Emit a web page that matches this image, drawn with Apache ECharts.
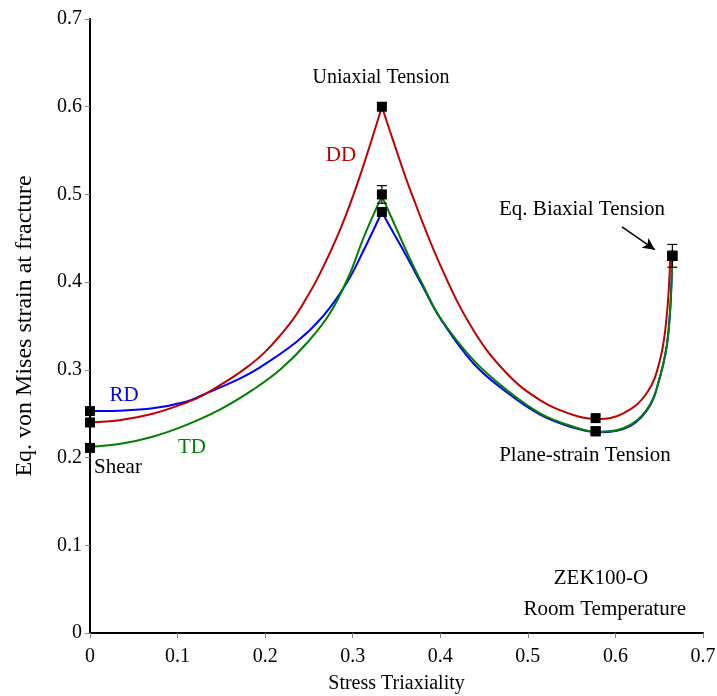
<!DOCTYPE html>
<html>
<head>
<meta charset="utf-8">
<script src="https://cdn.jsdelivr.net/npm/echarts@6/dist/echarts.min.js"></script>
<style>html,body{margin:0;padding:0;background:#fff;}#c{width:717px;height:696px;}</style>
</head>
<body>
<div id="c"></div>
<script>
// Measured points (stress triaxiality, equivalent strain)
const rdPts = [[0, 0.253], [0.3333, 0.480], [0.5774, 0.230], [0.665, 0.430]];
const ddPts = [[0, 0.240], [0.3333, 0.600], [0.5774, 0.245], [0.665, 0.430]];
const tdPts = [[0, 0.211], [0.3333, 0.500], [0.5774, 0.230], [0.665, 0.430]];
// Error bars [x, low, high]
const errBars = [[0.3333, 0.490, 0.510], [0.665, 0.417, 0.443]];

// Fitted curves (left branch up to uniaxial, right branch after)
const ddLeft = [[0,0.240],[0.0335,0.2425],[0.0716,0.250],[0.1096,0.2625],[0.1287,0.271],[0.1517,0.2845],[0.1751,0.300],[0.2,0.3205],[0.2284,0.353],[0.2455,0.379],[0.2627,0.410],[0.2855,0.4595],[0.3064,0.5155],[0.3333,0.600]];
const ddRight = [[0.3333,0.600],[0.348,0.556],[0.365,0.507],[0.3997,0.420],[0.4377,0.3455],[0.4758,0.2961],[0.5139,0.2656],[0.5519,0.2486],[0.5786,0.244],[0.609,0.2505],[0.6357,0.2733],[0.6509,0.3113],[0.6585,0.3607],[0.6625,0.4253]];
const rdLeft = [[0,0.253],[0.0335,0.2535],[0.0716,0.2562],[0.1096,0.2637],[0.1287,0.2714],[0.1667,0.288],[0.1903,0.3005],[0.236,0.332],[0.2664,0.3615],[0.2931,0.399],[0.3121,0.4355],[0.3333,0.480]];
const rdRight = [[0.3333,0.480],[0.345,0.459],[0.3612,0.430],[0.38,0.395],[0.3997,0.359],[0.4377,0.3075],[0.4758,0.2745],[0.5139,0.249],[0.5519,0.234],[0.5786,0.229],[0.609,0.2325],[0.6357,0.2535],[0.6509,0.292],[0.6604,0.3417],[0.665,0.436]];
const tdLeft = [[0,0.2125],[0.0335,0.2155],[0.0716,0.2238],[0.1096,0.237],[0.1477,0.2543],[0.1858,0.2771],[0.217,0.300],[0.2475,0.3303],[0.274,0.3645],[0.2969,0.410],[0.3121,0.450],[0.3333,0.498]];
const tdRight = [[0.3333,0.498],[0.345,0.472],[0.3638,0.430],[0.38,0.397],[0.3997,0.3597],[0.4377,0.3113],[0.4758,0.2771],[0.5139,0.2505],[0.5519,0.2352],[0.5786,0.2295],[0.609,0.2334],[0.6357,0.2543],[0.6509,0.2922],[0.6604,0.3417],[0.665,0.4367]];

const arrowLine = [[0.6075, 0.463], [0.645, 0.437]];

const xTicks = { min: 0, max: 0.7, interval: 0.1 };
const yTicks = { min: 0, max: 0.7, interval: 0.1 };

const RED = '#C00000', BLUE = '#0000FF', GREEN = '#008000';
const FONT = '"Liberation Serif", "DejaVu Serif", serif';
const AX = '#868686';

const chart = echarts.init(document.getElementById('c'), null, { renderer: 'canvas' });

function curve(data, color, z) {
  return { type: 'line', data: data, smooth: 0.4, showSymbol: false, symbol: 'none',
    lineStyle: { color: color, width: 2 }, z: z, silent: true, animation: false };
}
function pts(data) {
  return { type: 'scatter', data: data, symbol: 'rect', symbolSize: 10, itemStyle: { color: '#000', opacity: 1 }, z: 10, animation: false };
}
function txt(s, x, y, color, align, size) {
  return { type: 'text', x: x, y: y, z: 20,
    style: { text: s, font: (size || 21) + 'px ' + FONT, fill: color, align: align || 'center', verticalAlign: 'middle' } };
}

const option = {
  animation: false,
  backgroundColor: '#fff',
  grid: { left: 90, right: 14, top: 19, bottom: 63, containLabel: false, outerBoundsMode: 'none' },
  xAxis: [{
    type: 'value', min: xTicks.min, max: xTicks.max, interval: xTicks.interval,
    name: 'Stress Triaxiality', nameLocation: 'middle', nameGap: 41,
    nameTextStyle: { fontFamily: FONT, fontSize: 20, color: '#000' },
    axisLine: { show: true, onZero: false, lineStyle: { color: AX, width: 2 } },
    axisTick: { show: true, inside: false, length: 5, lineStyle: { color: AX } },
    axisLabel: { fontFamily: FONT, fontSize: 20, color: '#000', margin: 14 },
    splitLine: { show: false }
  }, {
    type: 'value', position: 'top', min: xTicks.min, max: xTicks.max,
    axisLine: { show: true, lineStyle: { color: '#000', width: 2 } },
    axisTick: { show: false }, axisLabel: { show: false }, splitLine: { show: false }
  }],
  yAxis: [{
    type: 'value', min: yTicks.min, max: yTicks.max, interval: yTicks.interval,
    name: 'Eq. von Mises strain at fracture', nameLocation: 'middle', nameGap: 53,
    nameTextStyle: { fontFamily: FONT, fontSize: 24, color: '#000' },
    axisLine: { show: true, onZero: false, lineStyle: { color: AX, width: 2 } },
    axisTick: { show: true, inside: false, length: 5, lineStyle: { color: AX } },
    axisLabel: { fontFamily: FONT, fontSize: 20, color: '#000', margin: 8 },
    splitLine: { show: false }
  }, {
    type: 'value', position: 'right', min: yTicks.min, max: yTicks.max,
    axisLine: { show: true, lineStyle: { color: '#000', width: 2 } },
    axisTick: { show: false }, axisLabel: { show: false }, splitLine: { show: false }
  }],
  series: [
    curve(tdLeft, GREEN, 3), curve(tdRight, GREEN, 3),
    curve(rdLeft, BLUE, 2), curve(rdRight, BLUE, 2),
    curve(ddLeft, RED, 4), curve(ddRight, RED, 4),
    {
      type: 'custom', z: 11, animation: false,
      data: errBars,
      renderItem: function (params, api) {
        const x = api.value(0);
        const lo = api.coord([x, api.value(1)]);
        const hi = api.coord([x, api.value(2)]);
        const w = 5;
        return { type: 'group', children: [
          { type: 'line', shape: { x1: lo[0], y1: lo[1], x2: hi[0], y2: hi[1] }, style: { stroke: '#000', lineWidth: 1.2 } },
          { type: 'line', shape: { x1: lo[0] - w, y1: lo[1], x2: lo[0] + w, y2: lo[1] }, style: { stroke: '#000', lineWidth: 1.2 } },
          { type: 'line', shape: { x1: hi[0] - w, y1: hi[1], x2: hi[0] + w, y2: hi[1] }, style: { stroke: '#000', lineWidth: 1.2 } }
        ] };
      }
    },
    pts(rdPts), pts(ddPts), pts(tdPts),
    {
      type: 'line', data: [], silent: true,
      markLine: {
        silent: true, symbol: ['none', 'arrow'], symbolSize: [9, 12],
        label: { show: false },
        lineStyle: { color: '#000', width: 1.5, type: 'solid' },
        data: [[{ coord: arrowLine[0] }, { coord: arrowLine[1] }]]
      }
    }
  ],
  graphic: [
    txt('Uniaxial Tension', 381, 78, '#000', 'center', 20),
    txt('DD', 341, 155, RED),
    txt('Eq. Biaxial Tension', 582, 209, '#000'),
    txt('Plane-strain Tension', 585, 455, '#000'),
    txt('RD', 124, 395, BLUE),
    txt('TD', 192, 447, GREEN),
    txt('Shear', 118, 467, '#000'),
    txt('ZEK100-O', 601, 578, '#000'),
    txt('Room Temperature', 686, 609, '#000', 'right')
  ]
};
chart.setOption(option);
</script>
</body>
</html>
